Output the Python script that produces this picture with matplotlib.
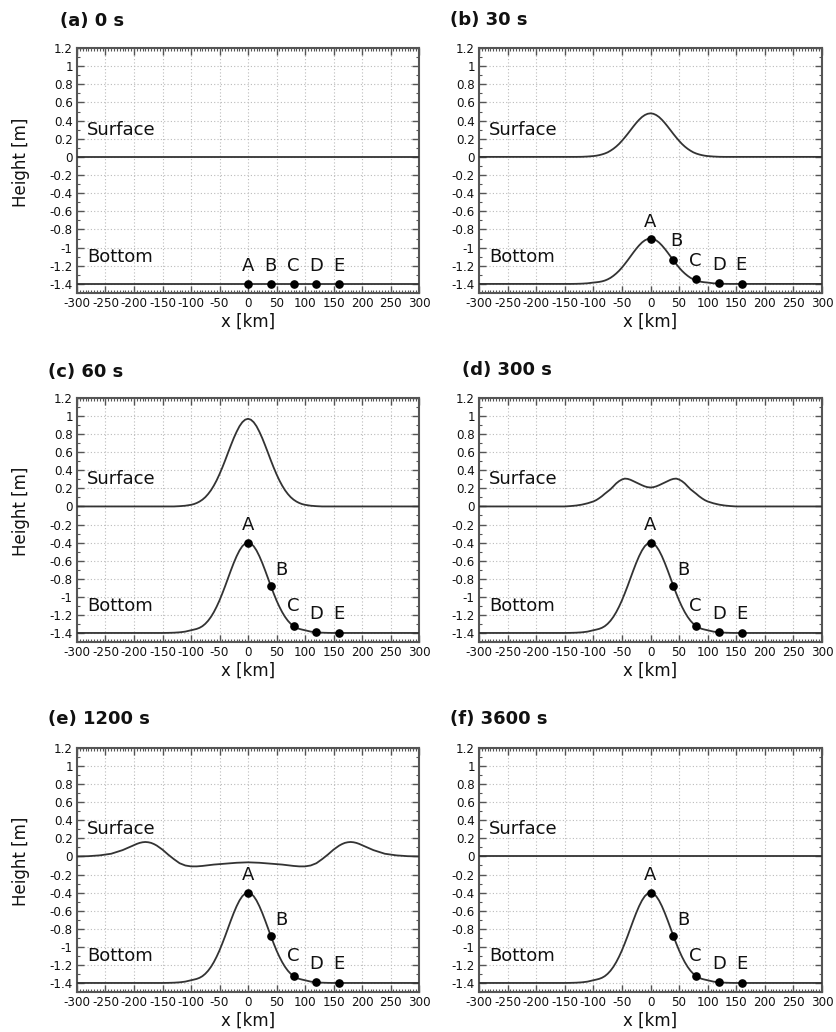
import matplotlib
matplotlib.use("Agg")
import matplotlib.pyplot as plt
from matplotlib.ticker import MultipleLocator, FixedLocator

plt.rcParams['font.family'] = ['DejaVu Sans']

# ---------------- data ----------------
titles = ["(a) 0 s", "(b) 30 s", "(c) 60 s", "(d) 300 s", "(e) 1200 s", "(f) 3600 s"]
station_names = ["A", "B", "C", "D", "E"]
station_x = [0, 40, 80, 120, 160]

# bottom profiles
bottom_flat_x = [-300, 300]
bottom_flat_y = [-1.40, -1.40]

bump_x = [-300, -150, -140, -130, -120, -110,
          -100, -95, -90, -85, -80, -75, -70, -65, -60, -55, -50, -45, -40, -35, -30, -25, -20, -15, -10, -5,
          0, 5, 10, 15, 20, 25, 30, 35, 40, 45, 50, 55, 60, 65, 70, 75, 80, 85, 90, 95, 100,
          110, 120, 130, 140, 150, 300]

bottom_30_y = [-1.400, -1.400, -1.400, -1.399, -1.397, -1.393,
               -1.385, -1.382, -1.378, -1.372, -1.363, -1.350, -1.333, -1.311, -1.285, -1.255, -1.220,
               -1.181, -1.140, -1.097, -1.054, -1.013, -0.976, -0.944, -0.920, -0.905,
               -0.900, -0.905, -0.920, -0.944, -0.976, -1.013, -1.054, -1.097, -1.140, -1.181, -1.220,
               -1.255, -1.285, -1.311, -1.333, -1.350, -1.363, -1.372, -1.378, -1.382, -1.385,
               -1.393, -1.397, -1.399, -1.400, -1.400, -1.400]

bottom_y = [-1.400, -1.400, -1.399, -1.397, -1.393, -1.385,
            -1.370, -1.363, -1.355, -1.343, -1.325, -1.299, -1.265, -1.222, -1.170, -1.109, -1.040,
            -0.962, -0.880, -0.793, -0.707, -0.625, -0.551, -0.488, -0.440, -0.410,
            -0.400, -0.410, -0.440, -0.488, -0.551, -0.625, -0.707, -0.793, -0.880, -0.962, -1.040,
            -1.109, -1.170, -1.222, -1.265, -1.299, -1.325, -1.343, -1.355, -1.363, -1.370,
            -1.385, -1.393, -1.397, -1.399, -1.400, -1.400]

# station heights on the bottom
stations_0 = [-1.40, -1.40, -1.40, -1.40, -1.40]
stations_30 = [-0.90, -1.14, -1.35, -1.39, -1.40]
stations_60 = [-0.40, -0.88, -1.32, -1.39, -1.40]

# surface profiles
surface_flat_x = [-300, 300]
surface_flat_y = [0.0, 0.0]

hump_x = [-300, -130, -120, -110,
          -100, -95, -90, -85, -80, -75, -70, -65, -60, -55, -50, -45, -40, -35, -30, -25, -20, -15, -10, -5,
          0, 5, 10, 15, 20, 25, 30, 35, 40, 45, 50, 55, 60, 65, 70, 75, 80, 85, 90, 95, 100,
          110, 120, 130, 300]

surface_30_y = [0.0, 0.0, 0.001, 0.004,
                0.009, 0.013, 0.019, 0.027, 0.037, 0.050, 0.068, 0.089, 0.114, 0.143, 0.177, 0.214,
                0.253, 0.294, 0.335, 0.374, 0.409, 0.439, 0.461, 0.475,
                0.480, 0.475, 0.461, 0.439, 0.409, 0.374, 0.335, 0.294, 0.253, 0.214, 0.177, 0.143,
                0.114, 0.089, 0.068, 0.050, 0.037, 0.027, 0.019, 0.013, 0.009,
                0.004, 0.001, 0.0, 0.0]

surface_60_y = [0.0, 0.0, 0.003, 0.008,
                0.018, 0.026, 0.038, 0.054, 0.075, 0.102, 0.137, 0.179, 0.230, 0.289, 0.357, 0.431,
                0.511, 0.595, 0.677, 0.756, 0.826, 0.887, 0.932, 0.960,
                0.970, 0.960, 0.932, 0.887, 0.826, 0.756, 0.677, 0.595, 0.511, 0.431, 0.357, 0.289,
                0.230, 0.179, 0.137, 0.102, 0.075, 0.054, 0.038, 0.026, 0.018,
                0.008, 0.003, 0.0, 0.0]

surface_300_x = [-300, -150, -140, -130, -120, -110,
                 -100, -95, -90, -85, -80, -75, -70, -65, -60, -55, -50, -45, -40, -35, -30, -25, -20, -15,
                 -10, -5, 0, 5, 10, 15, 20, 25, 30, 35, 40, 45, 50, 55, 60, 65, 70, 75, 80, 85, 90, 95, 100,
                 110, 120, 130, 140, 150, 300]
surface_300_y = [0.0, 0.0, 0.004, 0.010, 0.020, 0.035,
                 0.055, 0.070, 0.090, 0.113, 0.140, 0.165, 0.190, 0.222, 0.255, 0.280, 0.298, 0.308,
                 0.305, 0.295, 0.280, 0.265, 0.250, 0.235, 0.222, 0.213,
                 0.210, 0.213, 0.222, 0.235, 0.250, 0.265, 0.280, 0.295, 0.305, 0.308, 0.298, 0.280,
                 0.255, 0.222, 0.190, 0.165, 0.140, 0.113, 0.090, 0.070, 0.055,
                 0.035, 0.020, 0.010, 0.004, 0.0, 0.0]

surface_1200_x = [-300, -280, -260, -240, -220, -200, -195, -190, -185, -180, -175, -170, -165, -160,
                  -150, -140, -130, -120, -110, -100, -90, -80, -60, -40, -20, 0, 20, 40, 60, 80, 90,
                  100, 110, 120, 130, 140, 150, 160, 165, 170, 175, 180, 185, 190, 195, 200, 220, 240,
                  260, 280, 300]
surface_1200_y = [0.0, 0.003, 0.012, 0.030, 0.070, 0.125, 0.139, 0.150, 0.157, 0.160, 0.157, 0.150,
                  0.137, 0.120, 0.075, 0.020, -0.030, -0.075, -0.100, -0.110, -0.110, -0.105, -0.090,
                  -0.080, -0.070, -0.065, -0.070, -0.080, -0.090, -0.105, -0.110, -0.110, -0.100,
                  -0.075, -0.030, 0.020, 0.075, 0.120, 0.137, 0.150, 0.157, 0.160, 0.157, 0.150,
                  0.139, 0.125, 0.070, 0.030, 0.012, 0.003, 0.0]

surfaces = [(surface_flat_x, surface_flat_y), (hump_x, surface_30_y), (hump_x, surface_60_y),
            (surface_300_x, surface_300_y), (surface_1200_x, surface_1200_y), (surface_flat_x, surface_flat_y)]
bottoms = [(bottom_flat_x, bottom_flat_y), (bump_x, bottom_30_y), (bump_x, bottom_y),
           (bump_x, bottom_y), (bump_x, bottom_y), (bump_x, bottom_y)]
stations = [stations_0, stations_30, stations_60, stations_60, stations_60, stations_60]

x_ticks = [-300, -250, -200, -150, -100, -50, 0, 50, 100, 150, 200, 250, 300]
y_ticks = [1.2, 1, 0.8, 0.6, 0.4, 0.2, 0, -0.2, -0.4, -0.6, -0.8, -1, -1.2, -1.4]
y_tick_labels = ["1.2", "1", "0.8", "0.6", "0.4", "0.2", "0", "-0.2", "-0.4", "-0.6", "-0.8", "-1", "-1.2", "-1.4"]

# ---------------- layout (pixels) ----------------
W, H = 836, 1032
col_lr = [(77, 419), (479, 822)]
row_tb = [(48, 293), (398, 642), (748, 992)]
title_pos = [(60, 21), (450, 20), (48, 372), (462, 370), (48, 719), (450, 719)]
# label positions (x, y) in data units for each station label
label_pos_0 = [(0, -1.20), (40, -1.20), (80, -1.20), (120, -1.20), (160, -1.20)]
label_pos_30 = [(0, -0.72), (45, -0.93), (78, -1.15), (120, -1.19), (158, -1.19)]
label_pos_60 = [(0, -0.20), (58, -0.70), (79, -1.10), (120, -1.19), (159, -1.19)]
label_pos = [label_pos_0, label_pos_30, label_pos_60, label_pos_60, label_pos_60, label_pos_60]

line_c = "#333333"
frame_c = "#555555"

fig = plt.figure(figsize=(W / 100, H / 100), dpi=100)

for i in range(6):
    r, c = divmod(i, 2)
    l, rr = col_lr[c]
    t, b = row_tb[r]
    ax = fig.add_axes([l / W, 1 - b / H, (rr - l) / W, (b - t) / H])
    ax.set_xlim(-300, 300)
    ax.set_ylim(-1.5, 1.2)

    sx, sy = surfaces[i]
    bx, by = bottoms[i]
    ax.plot(sx, sy, color=line_c, lw=1.3, zorder=3)
    ax.plot(bx, by, color=line_c, lw=1.3, zorder=3)
    ax.plot(station_x, stations[i], 'o', color='black', ms=5.2, zorder=4)
    for name, (lx, ly) in zip(station_names, label_pos[i]):
        ax.text(lx, ly, name, fontsize=13, ha='center', va='center', color='#111111', zorder=5)

    ax.text(-282, 0.30, "Surface", fontsize=13, ha='left', va='center', color='#111111')
    ax.text(-282, -1.10, "Bottom", fontsize=13, ha='left', va='center', color='#111111')

    ax.xaxis.set_major_locator(FixedLocator(x_ticks))
    ax.set_xticklabels([str(v) for v in x_ticks])
    ax.xaxis.set_minor_locator(MultipleLocator(5))
    ax.yaxis.set_major_locator(FixedLocator(y_ticks))
    ax.set_yticklabels(y_tick_labels)
    ax.yaxis.set_minor_locator(MultipleLocator(0.1))
    ax.tick_params(which='both', direction='in', top=True, right=True, color=frame_c)
    ax.tick_params(which='major', length=5, width=1.0, labelsize=8.6, pad=3.0, labelcolor='#111111')
    ax.tick_params(which='minor', length=2.5, width=0.8)
    ax.grid(True, which='major', linestyle=(0, (1, 2)), color='#bbbbbb', lw=0.8)
    for sp in ax.spines.values():
        sp.set_color(frame_c)
        sp.set_linewidth(1.5)

    ax.set_xlabel("x [km]", fontsize=12, labelpad=2, color='#111111')
    if c == 0:
        ax.set_ylabel("Height [m]", fontsize=12, color='#111111')
        ax.yaxis.set_label_coords(-0.137, 0.535)

    tx, ty = title_pos[i]
    fig.text(tx / W, 1 - ty / H, titles[i], fontsize=13, fontweight='bold', ha='left', va='center',
             color='#111111')

fig.savefig("out.png", dpi=100)
